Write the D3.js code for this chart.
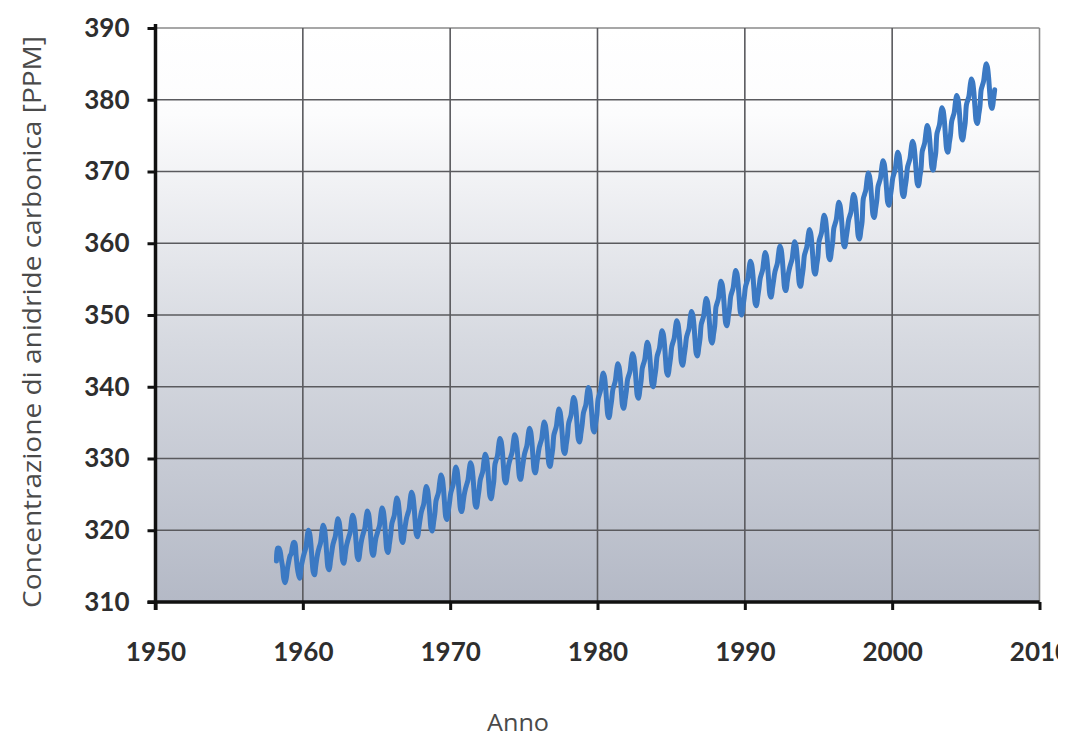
<!DOCTYPE html>
<html>
<head>
<meta charset="utf-8">
<script src="https://cdn.jsdelivr.net/npm/d3@7"></script>
<style>
  html, body { margin: 0; padding: 0; background: #ffffff; }
  svg { display: block; }
</style>
</head>
<body>
<svg id="chart" width="1075" height="738"></svg>
<script>
// ---------------- DATA ----------------
const xTicks = [1950, 1960, 1970, 1980, 1990, 2000, 2010];
const yTicks = [310, 320, 330, 340, 350, 360, 370, 380, 390];
const years = d3.range(1958, 2007);
// monthly CO2 (ppm), Jan..Dec, one row per year (null = no reading)
const ppm = [
  [null, null, 315.7, 317.5, 317.5, 317.1, 315.9, 314.9, 313.2, 312.7, 313.3, 314.7], // 1958
  [315.6, 316.4, 316.7, 317.7, 318.3, 318.2, 316.5, 314.8, 313.8, 313.3, 314.8, 315.6], // 1959
  [316.4, 317.0, 317.6, 319.0, 320.0, 319.6, 318.2, 315.9, 314.2, 313.8, 315.0, 316.2], // 1960
  [317.1, 317.7, 318.3, 319.7, 320.7, 320.3, 318.9, 316.6, 314.8, 314.5, 315.7, 316.9], // 1961
  [318.0, 318.6, 319.2, 320.6, 321.6, 321.2, 319.8, 317.5, 315.7, 315.4, 316.6, 317.8], // 1962
  [318.5, 319.1, 319.7, 321.1, 322.1, 321.7, 320.3, 318.0, 316.2, 315.9, 317.1, 318.3], // 1963
  [319.1, 319.7, 320.3, 321.7, 322.7, 322.3, 320.9, 318.6, 316.8, 316.5, 317.7, 318.9], // 1964
  [319.5, 320.1, 320.7, 322.1, 323.1, 322.7, 321.3, 319.0, 317.2, 316.9, 318.1, 319.3], // 1965
  [320.9, 321.5, 322.1, 323.5, 324.5, 324.1, 322.7, 320.4, 318.6, 318.3, 319.5, 320.7], // 1966
  [321.7, 322.3, 322.9, 324.3, 325.3, 324.9, 323.5, 321.2, 319.4, 319.1, 320.3, 321.5], // 1967
  [322.5, 323.1, 323.7, 325.1, 326.1, 325.7, 324.3, 322.0, 320.2, 319.9, 321.1, 322.3], // 1968
  [324.1, 324.7, 325.3, 326.7, 327.7, 327.3, 325.9, 323.6, 321.8, 321.5, 322.7, 323.9], // 1969
  [325.2, 325.8, 326.4, 327.8, 328.8, 328.4, 327.0, 324.7, 322.9, 322.6, 323.8, 325.0], // 1970
  [325.8, 326.4, 327.0, 328.4, 329.4, 329.0, 327.6, 325.3, 323.5, 323.2, 324.4, 325.6], // 1971
  [327.0, 327.6, 328.2, 329.6, 330.6, 330.2, 328.8, 326.5, 324.7, 324.4, 325.6, 326.8], // 1972
  [329.2, 329.8, 330.4, 331.8, 332.8, 332.4, 331.0, 328.7, 326.9, 326.6, 327.8, 329.0], // 1973
  [329.7, 330.3, 330.9, 332.3, 333.3, 332.9, 331.5, 329.2, 327.4, 327.1, 328.3, 329.5], // 1974
  [330.6, 331.2, 331.8, 333.2, 334.2, 333.8, 332.4, 330.1, 328.3, 328.0, 329.2, 330.4], // 1975
  [331.5, 332.1, 332.7, 334.1, 335.1, 334.7, 333.3, 331.0, 329.2, 328.9, 330.1, 331.3], // 1976
  [333.3, 333.9, 334.5, 335.9, 336.9, 336.5, 335.1, 332.8, 331.0, 330.7, 331.9, 333.1], // 1977
  [334.9, 335.5, 336.1, 337.5, 338.5, 338.1, 336.7, 334.4, 332.6, 332.3, 333.5, 334.7], // 1978
  [336.3, 336.9, 337.5, 338.9, 339.9, 339.5, 338.1, 335.8, 334.0, 333.7, 334.9, 336.1], // 1979
  [338.3, 338.9, 339.5, 340.9, 341.9, 341.5, 340.1, 337.8, 336.0, 335.7, 336.9, 338.1], // 1980
  [339.6, 340.2, 340.8, 342.2, 343.2, 342.8, 341.4, 339.1, 337.3, 337.0, 338.2, 339.4], // 1981
  [341.0, 341.6, 342.2, 343.6, 344.6, 344.2, 342.8, 340.5, 338.7, 338.4, 339.6, 340.8], // 1982
  [342.6, 343.2, 343.8, 345.2, 346.2, 345.8, 344.4, 342.1, 340.3, 340.0, 341.2, 342.4], // 1983
  [344.2, 344.8, 345.4, 346.8, 347.8, 347.4, 346.0, 343.7, 341.9, 341.6, 342.8, 344.0], // 1984
  [345.6, 346.2, 346.8, 348.2, 349.2, 348.8, 347.4, 345.1, 343.3, 343.0, 344.2, 345.4], // 1985
  [346.9, 347.5, 348.1, 349.5, 350.5, 350.1, 348.7, 346.4, 344.6, 344.3, 345.5, 346.7], // 1986
  [348.7, 349.3, 349.9, 351.3, 352.3, 351.9, 350.5, 348.2, 346.4, 346.1, 347.3, 348.5], // 1987
  [351.1, 351.7, 352.3, 353.7, 354.7, 354.3, 352.9, 350.6, 348.8, 348.5, 349.7, 350.9], // 1988
  [352.6, 353.2, 353.8, 355.2, 356.2, 355.8, 354.4, 352.1, 350.3, 350.0, 351.2, 352.4], // 1989
  [353.9, 354.5, 355.1, 356.5, 357.5, 357.1, 355.7, 353.4, 351.6, 351.3, 352.5, 353.7], // 1990
  [355.1, 355.7, 356.3, 357.7, 358.7, 358.3, 356.9, 354.6, 352.8, 352.5, 353.7, 354.9], // 1991
  [356.0, 356.6, 357.2, 358.6, 359.6, 359.2, 357.8, 355.5, 353.7, 353.4, 354.6, 355.8], // 1992
  [356.6, 357.2, 357.8, 359.2, 360.2, 359.8, 358.4, 356.1, 354.3, 354.0, 355.2, 356.4], // 1993
  [358.3, 358.9, 359.5, 360.9, 361.9, 361.5, 360.1, 357.8, 356.0, 355.7, 356.9, 358.1], // 1994
  [360.3, 360.9, 361.5, 362.9, 363.9, 363.5, 362.1, 359.8, 358.0, 357.7, 358.9, 360.1], // 1995
  [362.1, 362.7, 363.3, 364.7, 365.7, 365.3, 363.9, 361.6, 359.8, 359.5, 360.7, 361.9], // 1996
  [363.2, 363.8, 364.4, 365.8, 366.8, 366.4, 365.0, 362.7, 360.9, 360.6, 361.8, 363.0], // 1997
  [366.2, 366.8, 367.4, 368.8, 369.8, 369.4, 368.0, 365.7, 363.9, 363.6, 364.8, 366.0], // 1998
  [367.9, 368.5, 369.1, 370.5, 371.5, 371.1, 369.7, 367.4, 365.6, 365.3, 366.5, 367.7], // 1999
  [369.1, 369.7, 370.3, 371.7, 372.7, 372.3, 370.9, 368.6, 366.8, 366.5, 367.7, 368.9], // 2000
  [370.6, 371.2, 371.8, 373.2, 374.2, 373.8, 372.4, 370.1, 368.3, 368.0, 369.2, 370.4], // 2001
  [372.8, 373.4, 374.0, 375.4, 376.4, 376.0, 374.6, 372.3, 370.5, 370.2, 371.4, 372.6], // 2002
  [375.3, 375.9, 376.5, 377.9, 378.9, 378.5, 377.1, 374.8, 373.0, 372.7, 373.9, 375.1], // 2003
  [377.0, 377.6, 378.2, 379.6, 380.6, 380.2, 378.8, 376.5, 374.7, 374.4, 375.6, 376.8], // 2004
  [379.3, 379.9, 380.5, 381.9, 382.9, 382.5, 381.1, 378.8, 377.0, 376.7, 377.9, 379.1], // 2005
  [381.4, 382.0, 382.6, 384.0, 385.0, 384.6, 383.2, 380.9, 379.1, 378.8, 380.0, 381.4]  // 2006
];
const yLabel = "Concentrazione di anidride carbonica [PPM]";
const xLabel = "Anno";

// ---------------- LAYOUT ----------------
const svg = d3.select("#chart");
const mLeft = 155.5, mRight = 1039.5, mTop = 28, mBottom = 602;

const x = d3.scaleLinear().domain([1950, 2010]).range([mLeft, mRight]);
const y = d3.scaleLinear().domain([310, 390]).range([mBottom, mTop]);

// series
const series = [];
years.forEach((yr, i) => {
  ppm[i].forEach((v, m) => {
    if (v !== null) series.push({ t: yr + (m + 0.5) / 12, v: v });
  });
});

// gradient background
const defs = svg.append("defs");
const grad = defs.append("linearGradient")
  .attr("id", "bg").attr("x1", 0).attr("y1", 0).attr("x2", 0).attr("y2", 1);
grad.append("stop").attr("offset", "0%").attr("stop-color", "#ffffff");
grad.append("stop").attr("offset", "15%").attr("stop-color", "#fcfcfd");
grad.append("stop").attr("offset", "55%").attr("stop-color", "#d6d9e0");
grad.append("stop").attr("offset", "100%").attr("stop-color", "#b4b9c6");

defs.append("clipPath").attr("id", "pageclip")
  .append("rect").attr("x", 0).attr("y", -50).attr("width", 1058).attr("height", 200);

svg.append("rect")
  .attr("x", x(1950)).attr("y", y(390))
  .attr("width", x(2010) - x(1950)).attr("height", y(310) - y(390))
  .attr("fill", "url(#bg)");

// grid
const grid = svg.append("g");
grid.selectAll("line.h").data(yTicks.filter(d => d > 310)).join("line")
  .attr("x1", x(1950)).attr("x2", x(2010))
  .attr("y1", d => y(d)).attr("y2", d => y(d))
  .attr("stroke", d => d === 390 ? "#8a8a8a" : "#5a5a5e")
  .attr("stroke-width", 1.6);
grid.selectAll("line.v").data(xTicks.filter(d => d > 1950)).join("line")
  .attr("y1", y(310)).attr("y2", y(390))
  .attr("x1", d => x(d)).attr("x2", d => x(d))
  .attr("stroke", d => d === 2010 ? "#8a8a8a" : "#5a5a5e")
  .attr("stroke-width", 1.6);

// data line
const line = d3.line().x(d => x(d.t)).y(d => y(d.v)).curve(d3.curveCatmullRom);
svg.append("path").datum(series)
  .attr("d", line)
  .attr("fill", "none")
  .attr("stroke", "#3b79c3")
  .attr("stroke-width", 5)
  .attr("stroke-linejoin", "round")
  .attr("stroke-linecap", "round");

// axes
const tickFont = "Lato, 'DejaVu Sans', sans-serif";
const yAxis = d3.axisLeft(y).tickValues(yTicks).tickSize(8).tickPadding(18).tickFormat(d3.format("d"));
const gy = svg.append("g").attr("transform", `translate(${mLeft},0)`).call(yAxis);
const xAxis = d3.axisBottom(x).tickValues(xTicks).tickSize(8).tickPadding(33).tickFormat(d3.format("d"));
const gx = svg.append("g").attr("transform", `translate(0,${mBottom})`)
  .attr("clip-path", "url(#pageclip)").call(xAxis);

[gx, gy].forEach(g => {
  g.select(".domain").attr("stroke", "#111").attr("stroke-width", 3.5);
  g.selectAll(".tick line").attr("stroke", "#111").attr("stroke-width", 3);
  g.selectAll(".tick text")
    .attr("fill", "#2e2e2e")
    .style("font-family", tickFont)
    .style("font-weight", "700")
    .style("font-size", "26px");
});
gy.select(".domain").attr("d", `M-0,${y(390) - 4}H0V${y(310) + 8}`);
gx.select(".domain").attr("d", `M${x(1950) - 8},0H${x(2010)}`);

// axis titles
svg.append("text")
  .attr("transform", `translate(41, 322) rotate(-90)`)
  .attr("text-anchor", "middle")
  .attr("fill", "#4a4a4a")
  .attr("textLength", 572)
  .attr("lengthAdjust", "spacingAndGlyphs")
  .style("font-family", "'Open Sans', sans-serif")
  .style("font-size", "25px")
  .text(yLabel);

svg.append("text")
  .attr("x", 518).attr("y", 731)
  .attr("text-anchor", "middle")
  .attr("fill", "#4a4a4a")
  .attr("textLength", 62)
  .attr("lengthAdjust", "spacingAndGlyphs")
  .style("font-family", "'Open Sans', sans-serif")
  .style("font-size", "23px")
  .text(xLabel);
</script>
</body>
</html>
